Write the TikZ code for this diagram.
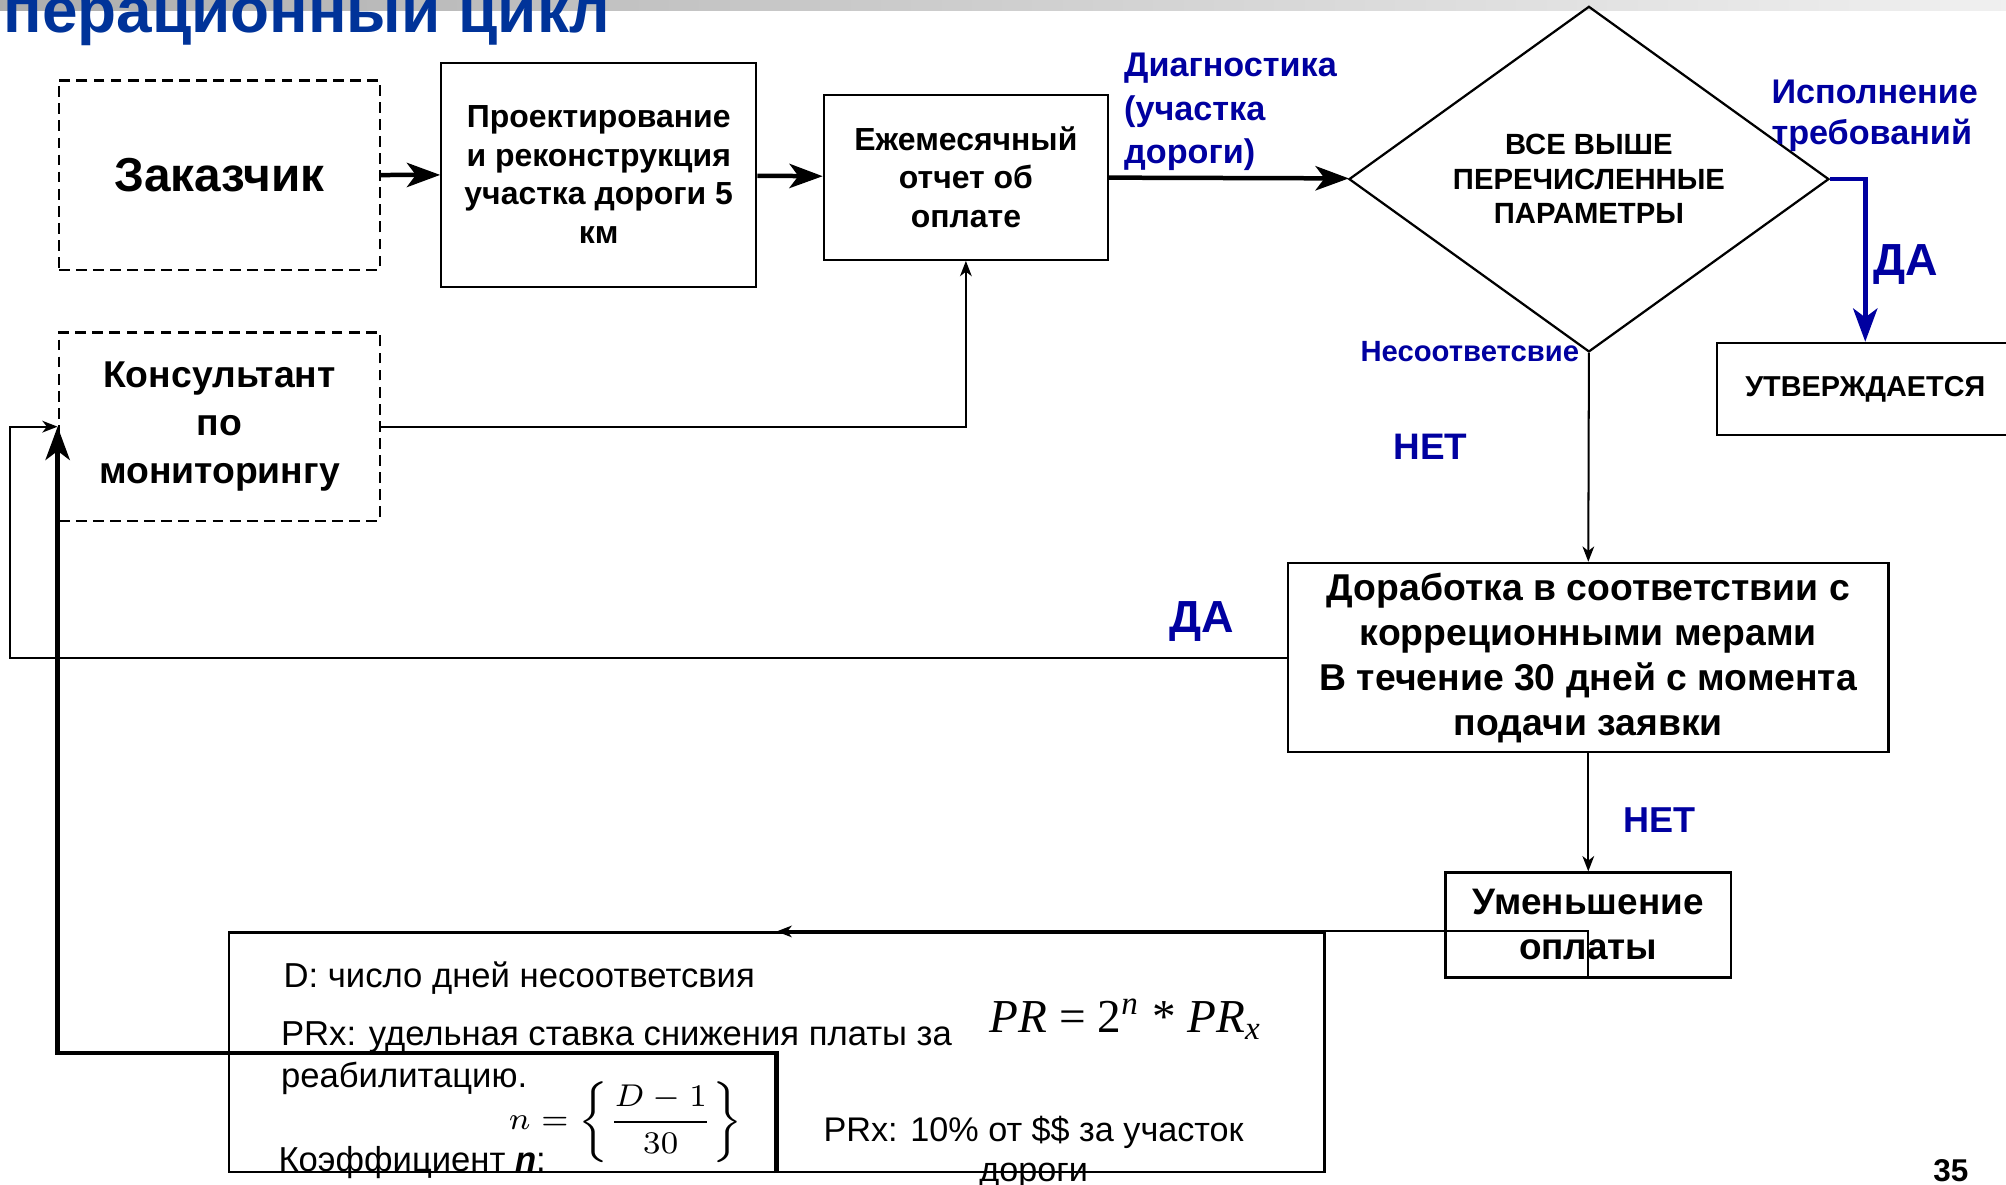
\documentclass[tikz,border=0pt]{standalone}
\usepackage{fontspec}
\setmainfont{Liberation Sans}
\newfontfamily\tnr{Liberation Serif}
\usetikzlibrary{shapes.geometric, arrows.meta, positioning}
\definecolor{titleblue}{RGB}{0,51,153}
\definecolor{lblblue}{RGB}{0,0,160}

\begin{document}
\begin{tikzpicture}[x=0.01cm, y=-0.01cm,
    box/.style={draw, line width=0.5pt, align=center, inner sep=0pt,
        font=\bfseries\fontsize{7.1}{8.6}\selectfont},
    dbox/.style={box, dash pattern=on 2.4pt off 1.4pt},
    lbl/.style={text=lblblue, inner sep=0pt, font=\bfseries\fontsize{7.6}{9.6}\selectfont},
    yesno/.style={lbl, font=\bfseries\fontsize{10}{12}\selectfont},
    note/.style={inner sep=0pt, font=\fontsize{7.7}{9.4}\selectfont},
    fat/.style={line width=1pt, -{Stealth[length=7.4pt, width=5.4pt, inset=2pt]}},
    conn/.style={line width=0.45pt, -{Stealth[length=3.4pt, width=2.6pt, inset=1pt]}}
]
\useasboundingbox (0,0) rectangle (1568,926);
\shade[left color=black!32, right color=black!6] (0,0) rectangle (1568,8);
\node[anchor=base west, inner sep=0pt, text=titleblue,
    font=\bfseries\fontsize{14.2}{16}\selectfont] (title) at (2,25) {перационный цикл};

\node[dbox, minimum width=2.51cm, minimum height=1.48cm,
    font=\bfseries\fontsize{10.6}{12}\selectfont] (zak) at (171.5,137) {Заказчик};
\node[box, minimum width=2.46cm, minimum height=1.75cm] (proj) at (468,136.5)
    {Проектирование\\и реконструкция\\участка дороги 5\\км};
\node[box, minimum width=2.22cm, minimum height=1.29cm] (otchet) at (755,138.5)
    {Ежемесячный\\отчет об\\оплате};
\node[draw, diamond, aspect=1.4, line width=0.5pt, minimum width=3.75cm, minimum height=2.7cm,
    inner sep=0pt, align=center, font=\bfseries\fontsize{6.5}{7.7}\selectfont] (check) at (1242,140)
    {ВСЕ ВЫШЕ\\ПЕРЕЧИСЛЕННЫЕ\\ПАРАМЕТРЫ};
\node[box, minimum width=2.32cm, minimum height=0.72cm,
    font=\bfseries\fontsize{6.4}{8}\selectfont] (utv) at (1458,304) {УТВЕРЖДАЕТСЯ};
\node[dbox, minimum width=2.51cm, minimum height=1.47cm,
    font=\bfseries\fontsize{8.3}{10.7}\selectfont] (kons) at (171.5,333.5)
    {Консультант\\по\\мониторингу};
\node[box, minimum width=4.69cm, minimum height=1.48cm,
    font=\bfseries\fontsize{8.3}{10}\selectfont] (dor) at (1241.5,514)
    {Доработка в соответствии с\\корреционными мерами\\В течение 30 дней с момента\\подачи заявки};
\node[box, minimum width=2.23cm, minimum height=0.82cm,
    font=\bfseries\fontsize{8.2}{10}\selectfont] (umen) at (1241.5,723) {Уменьшение\\оплаты};
\node[draw, line width=0.5pt, minimum width=8.56cm, minimum height=1.87cm,
    inner sep=0pt] (form) at (607,822.5) {};

% labels
\node[lbl, anchor=north west, align=left] (diag) at (878,41) {Диагностика\\(участка\\дороги)};
\node[lbl, anchor=north west, align=left, font=\bfseries\fontsize{7.6}{9.1}\selectfont]
    (ispoln) at (1384,62) {Исполнение\\требований};
\node[yesno] (yes1) at (1490,207) {ДА};
\node[lbl, anchor=east, font=\bfseries\fontsize{6.5}{8}\selectfont] (nesoot) at (1235,275) {Несоответсвие};
\node[lbl, font=\bfseries\fontsize{8.2}{10}\selectfont] (no1) at (1118,349) {НЕТ};
\node[yesno] (yes2) at (939,486) {ДА};
\node[lbl, font=\bfseries\fontsize{8}{10}\selectfont] (no2) at (1297,641) {НЕТ};
\node[inner sep=0pt, font=\bfseries\fontsize{7}{8}\selectfont] (page) at (1525,915) {35};

% formula box
\node[note, anchor=base west] (dnote) at (221,772) {D: число дней несоответсвия};
\node[note, anchor=north west, align=left] (prnote) at (219,798)
    {PRx: удельная ставка снижения платы за\\реабилитацию.};
\node[note, anchor=base west] (knote) at (217,916) {Коэффициент \textbf{\itshape n}:};
\node[inner sep=0pt, font=\fontsize{7.5}{9}\selectfont] (nform) at (489,877)
    {$n=\left\{\displaystyle\frac{D-1}{30}\right\}$};
\node[inner sep=0pt, anchor=base west, font=\tnr\fontsize{10.5}{12}\selectfont] (prform) at (773,807)
    {\itshape PR\/ \upshape= 2\textsuperscript{\itshape n} * \itshape PR\textsubscript{x}};
\node[note, align=center, anchor=north, font=\fontsize{7.6}{8.8}\selectfont] (prxnote) at (808,872)
    {PRx: 10\% от \$\$ за участок\\дороги};

% connectors
\draw[fat] (zak) -- (proj);
\draw[fat] (proj) -- (otchet);
\draw[fat] (otchet) -- (check);
\draw[fat, lblblue] (check.east) -| (utv.north);
\draw[conn] (check.south) -- (dor.north);
\draw[conn] (kons.east) -| (otchet.south);
\coordinate (loop) at (8,514);
\draw[conn] (dor.west) -- (loop) |- (kons.west);
\draw[conn] (dor.south) -- (umen.north);
\draw[conn] (umen.south) -- (umen.south |- form.north) -- (form.north);
\coordinate (bend) at (607,823);
\draw[fat] (form.south) -- (bend) -| (kons.west);
\end{tikzpicture}
\end{document}
